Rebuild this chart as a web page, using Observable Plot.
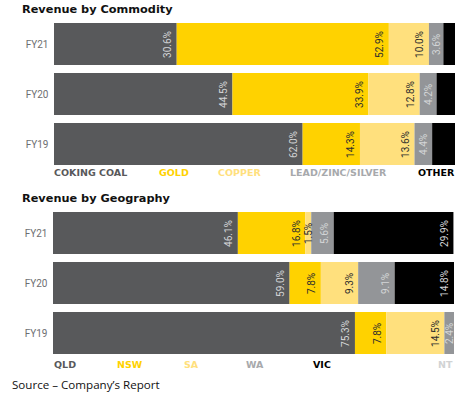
<!DOCTYPE html>
<html>
<head>
<meta charset="utf-8">
<script src="https://cdn.jsdelivr.net/npm/d3@7"></script>
<script src="https://cdn.jsdelivr.net/npm/@observablehq/plot@0.6"></script>
<style>
  html, body { margin: 0; padding: 0; background: #fff; }
  #wrap { position: relative; width: 455px; height: 396px; overflow: hidden; font-family: "DejaVu Sans", sans-serif; }
  .title { position: absolute; left: 22px; font-family: "DejaVu Sans", sans-serif; font-weight: bold; font-size: 11.3px; color: #111; white-space: nowrap; line-height: 1; }
  .chart { position: absolute; left: 0; }
  .leg { position: absolute; font-family: "DejaVu Sans", sans-serif; font-weight: bold; font-size: 9.5px; white-space: nowrap; line-height: 1; }
  .src { position: absolute; left: 12px; top: 378px; font-family: "Open Sans", sans-serif; font-size: 11.6px; color: #111; white-space: nowrap; line-height: 1.2; }
</style>
</head>
<body>
<div id="wrap">
  <div class="title" style="top:4px">Revenue by Commodity</div>
  <div class="chart" id="c1" style="top:0px"></div>
  <div id="leg1"></div>
  <div class="title" style="top:193px">Revenue by Geography</div>
  <div class="chart" id="c2" style="top:189px"></div>
  <div id="leg2"></div>
  <div class="src">Source – Company’s Report</div>
</div>
<script>
const years = ["FY21", "FY20", "FY19"];

const commodities = ["COKING COAL", "GOLD", "COPPER", "LEAD/ZINC/SILVER", "OTHER"];
const commodityFY21 = [30.6, 52.9, 10.0, 3.6, 2.9];
const commodityFY20 = [44.5, 33.9, 12.8, 4.2, 4.6];
const commodityFY19 = [62.0, 14.3, 13.6, 4.4, 5.7];

const regions = ["QLD", "NSW", "SA", "WA", "VIC", "NT"];
const geoFY21 = [46.1, 16.8, 1.5, 5.6, 29.9, 0.1];
const geoFY20 = [59.0, 7.8, 9.3, 9.1, 14.8, 0.0];
const geoFY19 = [75.3, 7.8, 14.5, 2.4, 0.0, 0.0];

const commodityColors = ["#58595b", "#ffd200", "#ffe07d", "#939598", "#000000"];
const regionColors = ["#58595b", "#ffd200", "#ffe07d", "#939598", "#000000", "#d1d3d4"];
const commodityLegendColors = ["#58595b", "#ffd200", "#ffe07d", "#a7a9ac", "#000000"];
const regionLegendColors = ["#58595b", "#ffd200", "#ffe07d", "#a7a9ac", "#000000", "#d1d3d4"];

// legend x positions (layout)
const leg1X = [54, 159, 218, 290, 418];
const leg2X = [54, 117, 184, 246, 313, 438];

const darkText = new Set([1, 2]); // gold & copper/yellow segments get dark labels

function buildRows(cats, seriesByYear) {
  const rows = [];
  years.forEach((yr, i) => {
    let acc = 0;
    seriesByYear[i].forEach((v, j) => {
      rows.push({year: yr, cat: cats[j], idx: j, value: v, x1: acc, x2: acc + v});
      acc += v;
    });
  });
  return rows;
}

function chart(cats, colors, rows, labelled, mLeft, mRight) {
  const lab = rows.filter(labelled);
  const lx = d => Math.max(d.x2 - 2.3, (d.x1 + d.x2) / 2);
  const fmt = d => d.value.toFixed(1) + "%";
  return Plot.plot({
    width: 455,
    height: 171,
    marginTop: 22,
    marginBottom: 5,
    marginLeft: mLeft,
    marginRight: mRight,
    x: {domain: [0, 100], axis: null},
    y: {domain: years, paddingInner: 0.17, paddingOuter: 0, label: null, tickSize: 0, tickPadding: 6},
    color: {domain: cats, range: colors},
    style: {fontFamily: "Roboto, sans-serif", fontSize: "10px", color: "#6d6e71", background: "transparent", overflow: "visible"},
    marks: [
      Plot.barX(rows, {x1: "x1", x2: "x2", y: "year", fill: "cat"}),
      Plot.text(lab.filter(d => !darkText.has(d.idx)), {x: lx, y: "year", text: fmt, rotate: -90, fill: "#d4d5d7", fontSize: 10}),
      Plot.text(lab.filter(d => darkText.has(d.idx)), {x: lx, y: "year", text: fmt, rotate: -90, fill: "#2e2e2e", fontSize: 10})
    ]
  });
}

const rows1 = buildRows(commodities, [commodityFY21, commodityFY20, commodityFY19]);
const rows2 = buildRows(regions, [geoFY21, geoFY20, geoFY19]);

document.getElementById("c1").appendChild(
  chart(commodities, commodityColors, rows1, d => d.cat !== "OTHER" && d.value >= 1, 54, 0)
);
document.getElementById("c2").appendChild(
  chart(regions, regionColors, rows2, d => d.value >= 1, 53, 1)
);

function legend(el, cats, colors, xs, top) {
  cats.forEach((c, i) => {
    const s = document.createElement("span");
    s.className = "leg";
    s.textContent = c;
    s.style.left = xs[i] + "px";
    s.style.top = top + "px";
    s.style.color = colors[i];
    el.appendChild(s);
  });
}
legend(document.getElementById("leg1"), commodities, commodityLegendColors, leg1X, 168);
legend(document.getElementById("leg2"), regions, regionLegendColors, leg2X, 360);
</script>
</body>
</html>
